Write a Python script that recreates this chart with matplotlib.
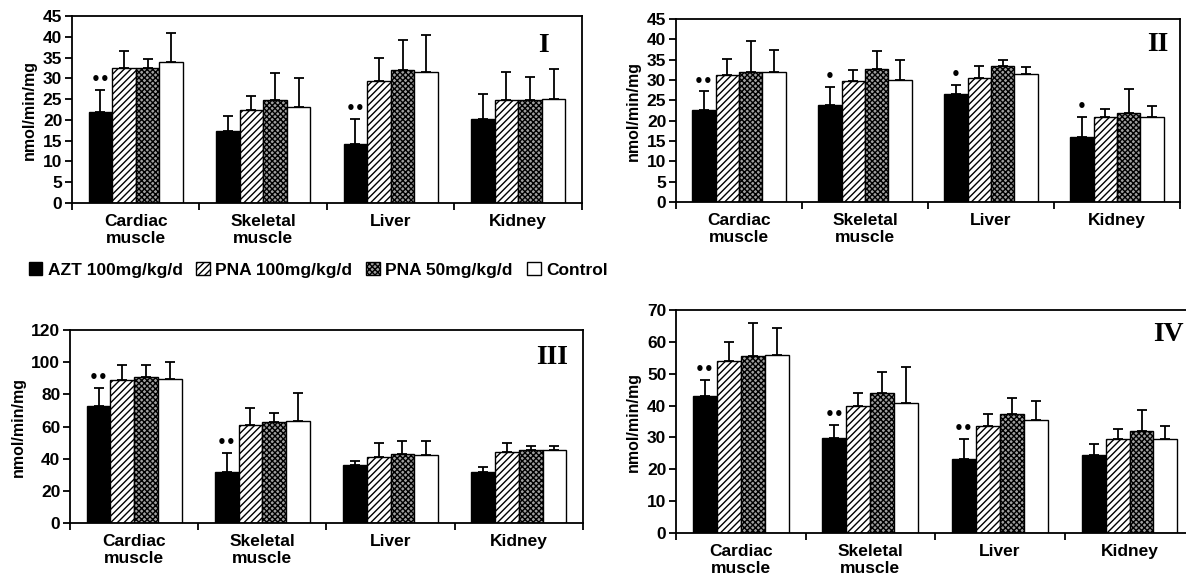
import matplotlib

matplotlib.use("Agg")
import matplotlib.pyplot as plt
import numpy as np
from matplotlib.patches import Patch

plt.rcParams["font.family"] = ["Liberation Sans", "DejaVu Sans"]
plt.rcParams["font.weight"] = "bold"
plt.rcParams["hatch.linewidth"] = 1.0

categories = ["Cardiac\nmuscle", "Skeletal\nmuscle", "Liver", "Kidney"]
groups = ["AZT 100mg/kg/d", "PNA 100mg/kg/d", "PNA 50mg/kg/d", "Control"]

# panel I
p1_mean = [[22.0, 17.4, 14.1, 20.1], [32.4, 22.3, 29.4, 24.7],
           [32.6, 24.7, 32.0, 24.7], [33.9, 23.0, 31.6, 25.0]]
p1_sd = [[5.3, 3.6, 6.2, 6.1], [4.2, 3.4, 5.6, 6.9],
         [2.0, 6.5, 7.3, 5.7], [7.0, 7.0, 8.9, 7.3]]
p1_sig = ["••", "", "••", ""]

# panel II
p2_mean = [[22.7, 23.9, 26.5, 16.0], [31.2, 29.7, 30.4, 21.0],
           [32.0, 32.7, 33.4, 21.9], [32.0, 30.0, 31.5, 21.0]]
p2_sd = [[4.5, 4.4, 2.3, 5.0], [4.1, 2.9, 3.0, 2.0],
         [7.7, 4.5, 1.6, 6.0], [5.3, 4.9, 1.8, 2.7]]
p2_sig = ["••", "•", "•", "•"]

# panel III
p3_mean = [[72.7, 31.9, 36.0, 31.9], [89.1, 60.9, 40.8, 44.5],
           [90.8, 62.8, 43.2, 45.3], [89.7, 63.8, 42.4, 45.3]]
p3_sd = [[11.3, 11.9, 2.5, 2.7], [9.5, 10.5, 9.2, 5.5],
         [7.8, 5.7, 7.8, 2.7], [10.8, 17.3, 8.9, 2.7]]
p3_sig = ["••", "••", "", ""]

# panel IV
p4_mean = [[43.0, 29.7, 23.1, 24.6], [54.1, 40.0, 33.5, 29.6],
           [55.5, 44.0, 37.4, 32.0], [56.0, 40.9, 35.5, 29.6]]
p4_sd = [[5.0, 4.2, 6.4, 3.4], [5.9, 4.0, 3.9, 3.0],
         [10.5, 6.6, 5.1, 6.5], [8.5, 11.2, 6.0, 3.9]]
p4_sig = ["••", "••", "••", ""]

styles = [
    dict(facecolor="black", hatch=None),
    dict(facecolor="white", hatch="/////"),
    dict(facecolor="#a0a0a0", hatch="xxxxxx"),
    dict(facecolor="white", hatch=None),
]


def draw_panel(ax, means, sds, sig, ymax, ystep, label, label_pos):
    x = np.arange(len(categories)) + 0.5
    w = 0.185
    for k, (m, s) in enumerate(zip(means, sds)):
        pos = x + (k - 1.5) * w
        ax.bar(pos, m, w, edgecolor="black", linewidth=1.0, **styles[k])
        ax.errorbar(pos, m, yerr=[np.zeros(len(s)), s], fmt="none",
                    ecolor="black", elinewidth=1.3, capsize=3.5, capthick=1.3)
    for i, txt in enumerate(sig):
        if txt:
            top = means[0][i] + sds[0][i]
            ax.text(x[i] - 1.5 * w, top + ymax * 0.015, txt, ha="center",
                    va="bottom", fontsize=11, family="DejaVu Sans")
    ax.set_xlim(0, len(categories))
    ax.set_ylim(0, ymax)
    ax.set_yticks(np.arange(0, ymax + 0.1, ystep))
    ax.set_xticks(np.arange(len(categories) + 1))
    ax.set_xticklabels([])
    ax.set_xticks(x, minor=True)
    ax.set_xticklabels(categories, minor=True, fontsize=12.5, fontweight="bold",
                       linespacing=1.15)
    ax.tick_params(axis="x", which="minor", length=0, pad=8)
    ax.tick_params(axis="x", which="major", direction="out", length=5, width=1.3)
    ax.tick_params(axis="y", direction="out", length=5, width=1.3,
                   labelsize=12.5, pad=2)
    for sp in ax.spines.values():
        sp.set_linewidth(1.3)
    ax.set_ylabel("nmol/min/mg", fontsize=11.5, fontweight="bold", labelpad=4)
    ax.text(label_pos[0], label_pos[1], label, transform=ax.transAxes,
            ha="center", va="center", fontsize=20, fontweight="bold",
            family="Liberation Serif")


fig = plt.figure(figsize=(11.86, 5.86), dpi=100)
ax1 = fig.add_axes([0.0607, 0.6536, 0.430, 0.319])
ax2 = fig.add_axes([0.570, 0.6553, 0.425, 0.312])
ax3 = fig.add_axes([0.059, 0.1075, 0.4325, 0.329])
ax4 = fig.add_axes([0.570, 0.0904, 0.437, 0.3805])

draw_panel(ax1, p1_mean, p1_sd, p1_sig, 45, 5, "I", (0.925, 0.845))
draw_panel(ax2, p2_mean, p2_sd, p2_sig, 45, 5, "II", (0.955, 0.86))
draw_panel(ax3, p3_mean, p3_sd, p3_sig, 120, 20, "III", (0.94, 0.86))
draw_panel(ax4, p4_mean, p4_sd, p4_sig, 70, 10, "IV", (0.95, 0.89))

handles = [Patch(edgecolor="black", linewidth=1.0, **st) for st in styles]
fig.legend(handles, groups, loc="center", bbox_to_anchor=(318 / 1186, 1 - 270 / 586),
           ncol=4, frameon=False, handlelength=0.8, handleheight=0.8,
           handletextpad=0.3, columnspacing=0.8, prop={"weight": "bold", "size": 12.5})

fig.savefig("out.png", dpi=100)
